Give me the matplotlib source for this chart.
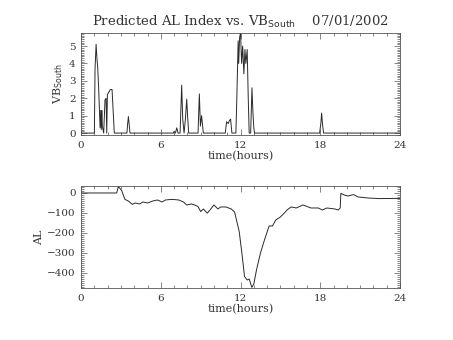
import matplotlib
matplotlib.use('Agg')
import matplotlib.pyplot as plt
from matplotlib.ticker import MultipleLocator

plt.rcParams['font.family'] = ['DejaVu Serif']
plt.rcParams['text.color'] = '#333333'
plt.rcParams['axes.labelcolor'] = '#333333'

# VB south (top panel), hours vs value
vb_t = [0.0, 1.0, 1.05, 1.13, 1.2, 1.25, 1.32, 1.43, 1.48, 1.52, 1.56, 1.6, 1.7, 1.8, 1.88, 1.93,
        1.98, 2.05, 2.2, 2.33, 2.5, 3.45, 3.5, 3.56, 3.62, 3.68, 6.95, 7.0, 7.1, 7.2, 7.3, 7.45,
        7.57, 7.65, 7.75, 7.85, 7.95, 8.02, 8.1, 8.8, 8.9, 8.98, 9.07, 9.2, 10.85, 10.95, 11.08,
        11.15, 11.25, 11.35, 11.65, 11.72, 11.82, 11.86, 11.93, 12.0, 12.08, 12.16, 12.25, 12.33,
        12.4, 12.5, 12.58, 12.65, 12.76, 12.86, 12.93, 13.0, 13.05, 17.95, 18.05, 18.1, 18.17,
        18.25, 24.0]
vb_v = [0.0, 0.0, 3.7, 5.1, 4.2, 3.8, 2.6, 0.3, 1.3, 0.2, 1.3, 0.4, 0.0, 1.9, 2.0, 0.0,
        2.2, 2.3, 2.5, 2.5, 0.0, 0.0, 0.5, 0.95, 0.5, 0.0, 0.0, 0.1, 0.0, 0.3, 0.0, 0.0,
        2.75, 0.8, 0.0, 0.8, 1.95, 0.9, 0.0, 0.0, 2.25, 0.4, 1.0, 0.0, 0.0, 0.65, 0.55,
        0.7, 0.8, 0.0, 0.0, 2.0, 5.3, 4.0, 5.5, 5.75, 4.0, 5.0, 3.4, 4.8,
        4.0, 4.8, 2.0, 0.0, 0.0, 2.6, 1.2, 0.3, 0.0, 0.0, 0.6, 1.15, 0.5,
        0.0, 0.0]

# AL index (bottom panel)
al_t = [0.0, 2.68, 2.8, 3.05, 3.3, 3.55, 3.87, 4.05, 4.4, 4.65, 5.0, 5.4, 5.75, 6.1, 6.35, 6.85,
        7.35, 7.7, 7.95, 8.3, 8.55, 8.8, 9.0, 9.2, 9.5, 9.7, 10.0, 10.3, 10.5, 10.9, 11.3, 11.55,
        11.9, 12.1, 12.3, 12.5, 12.65, 12.85, 13.0, 13.2, 13.5, 13.8, 14.15, 14.4, 14.65, 15.0,
        15.3, 15.5, 15.8, 16.2, 16.7, 17.3, 17.85, 18.15, 18.5, 19.1, 19.35, 19.5, 19.55, 19.8,
        20.1, 20.5, 20.85, 21.6, 22.4, 24.0]
al_v = [0, 0, 32, 13, -32, -40, -57, -50, -55, -45, -50, -40, -35, -45, -35, -32,
        -35, -45, -60, -55, -60, -68, -93, -80, -101, -85, -60, -80, -70, -70, -80, -95,
        -193, -300, -418, -435, -430, -472, -455, -385, -300, -235, -165, -165, -135, -120,
        -100, -85, -70, -75, -60, -75, -75, -85, -75, -80, -85, -75, -2, -10,
        -15, -8, -20, -25, -28, -27]

title = 'Predicted AL Index vs. VB$_{\\mathrm{South}}$    07/01/2002'
xticks = [0, 6, 12, 18, 24]

fig = plt.figure(figsize=(4.53, 3.40), dpi=100)
ax1 = fig.add_axes([0.179, 0.603, 0.704, 0.300])
ax2 = fig.add_axes([0.179, 0.153, 0.704, 0.300])

lc = '#2a2a2a'
ax1.plot(vb_t, vb_v, color=lc, lw=0.7)
ax2.plot(al_t, al_v, color=lc, lw=0.7)

ax1.set_ylim(-0.11, 5.75)
ax1.yaxis.set_major_locator(MultipleLocator(1))
ax1.yaxis.set_minor_locator(MultipleLocator(0.1))
ax1.set_ylabel('VB$_{\\mathrm{South}}$', fontsize=8, labelpad=3)
ax1.set_title(title, fontsize=9.5, pad=5)

ax2.set_ylim(-475, 35)
ax2.yaxis.set_major_locator(MultipleLocator(100))
ax2.yaxis.set_minor_locator(MultipleLocator(10))
ax2.set_ylabel('AL', fontsize=8, labelpad=2)

for ax in (ax1, ax2):
    ax.set_xlim(0, 24)
    ax.set_xticks(xticks)
    ax.xaxis.set_minor_locator(MultipleLocator(1))
    ax.set_xlabel('time(hours)', fontsize=8, labelpad=1)
    ax.tick_params(which='both', direction='in', top=True, right=True,
                   labelsize=7.5, width=0.5, color='#555555', labelcolor='#333333', pad=4)
    ax.tick_params(which='major', length=4)
    ax.tick_params(which='minor', length=2.5)
    for s in ax.spines.values():
        s.set_linewidth(0.6)
        s.set_color('#555555')

fig.savefig('out.png', dpi=100)
